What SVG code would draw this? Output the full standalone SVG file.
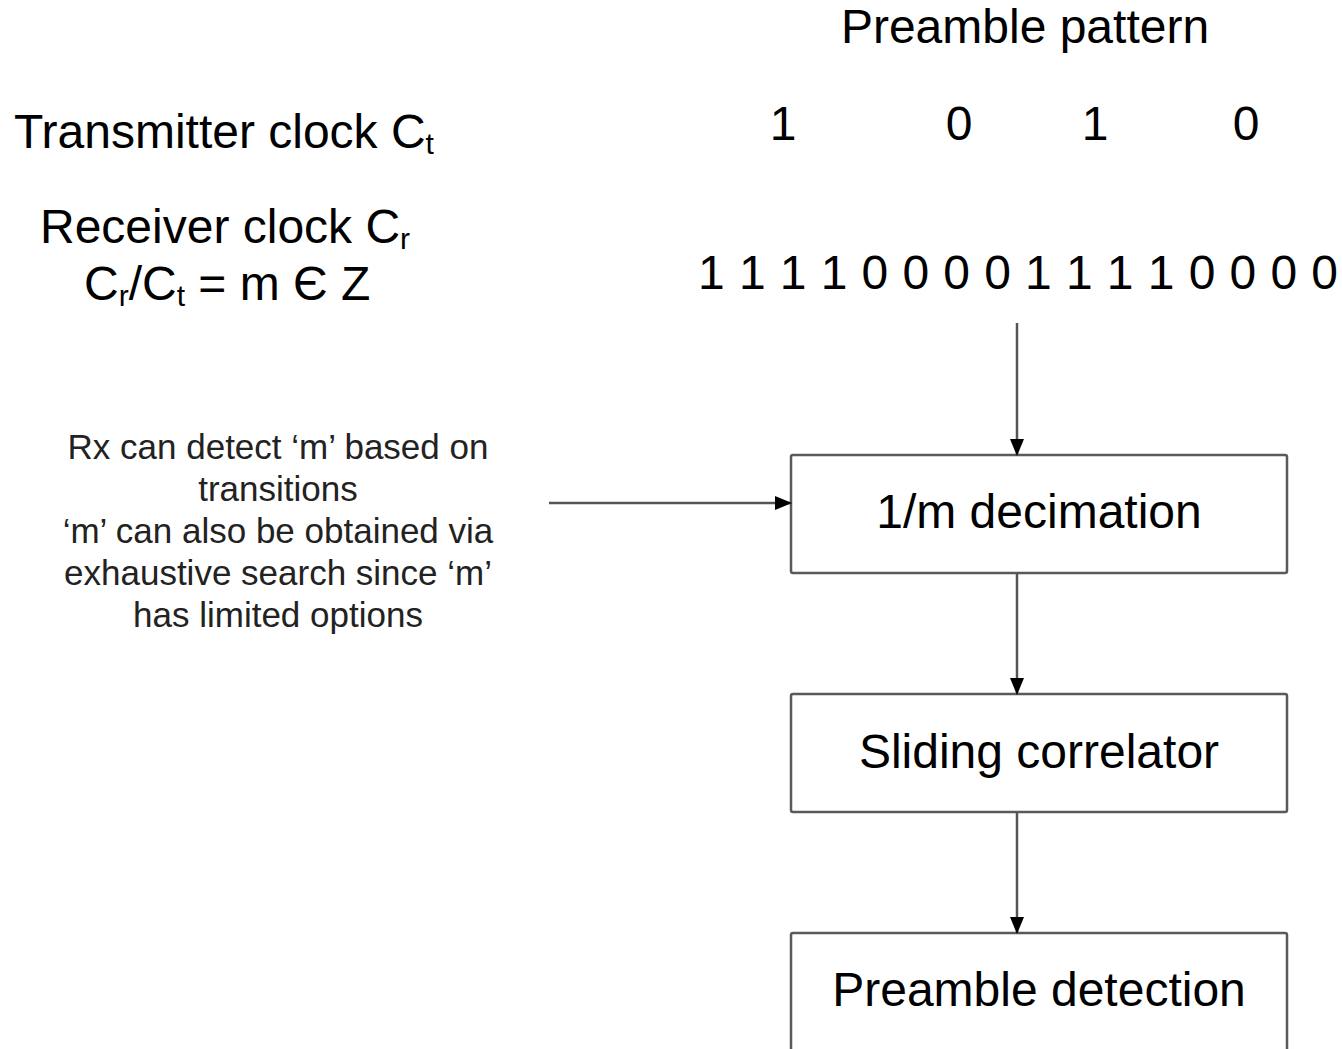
<svg xmlns="http://www.w3.org/2000/svg" width="1342" height="1049" viewBox="0 0 1342 1049">
  <style>
    text { font-family: "Liberation Sans", Arial, sans-serif; fill: #000; }
    .big { font-size: 48px; }
    .note { font-size: 35px; fill: #222; }
    .sub { font-size: 30px; }
    .box { fill: #fff; stroke: #5a5a5a; stroke-width: 2.5; }
    .wire { stroke: #555; stroke-width: 2.5; fill: none; }
  </style>
  <defs>
    <marker id="arrow" markerWidth="17" markerHeight="14" refX="16" refY="7" orient="auto" markerUnits="userSpaceOnUse">
      <path d="M0,0 L17,7 L0,14 Z" fill="#000"/>
    </marker>
  </defs>
  <rect width="1342" height="1049" fill="#fff"/>

  <!-- clock labels -->
  <g id="labels">
    <text class="big" x="14" y="148">Transmitter clock C<tspan class="sub" dy="6">t</tspan></text>
    <text class="big" x="40" y="243">Receiver clock C<tspan class="sub" dy="6">r</tspan></text>
    <text class="big" x="84" y="300">C<tspan class="sub" dy="6">r</tspan><tspan dy="-6">/C</tspan><tspan class="sub" dy="6">t</tspan><tspan dy="-6"> = m Є Z</tspan></text>
  </g>

  <!-- preamble bit patterns -->
  <g id="preamble">
    <text class="big" x="1025" y="43" text-anchor="middle">Preamble pattern</text>
    <text class="big" x="783" y="140" text-anchor="middle">1</text>
    <text class="big" x="959" y="140" text-anchor="middle">0</text>
    <text class="big" x="1095" y="140" text-anchor="middle">1</text>
    <text class="big" x="1246" y="140" text-anchor="middle">0</text>
    <text class="big" x="698" y="289" textLength="640" lengthAdjust="spacing">1 1 1 1 0 0 0 0 1 1 1 1 0 0 0 0</text>
  </g>

  <!-- note about the ratio m -->
  <g id="note" text-anchor="middle">
    <text class="note" x="278" y="459">Rx can detect ‘m’ based on</text>
    <text class="note" x="278" y="501">transitions</text>
    <text class="note" x="278" y="543">‘m’ can also be obtained via</text>
    <text class="note" x="278" y="585">exhaustive search since ‘m’</text>
    <text class="note" x="278" y="627">has limited options</text>
  </g>

  <!-- processing blocks -->
  <g id="decimation">
    <rect class="box" x="791" y="455" width="496" height="118" rx="2"/>
    <text class="big" x="1039" y="528" text-anchor="middle">1/m decimation</text>
  </g>
  <g id="correlator">
    <rect class="box" x="791" y="694" width="496" height="118" rx="2"/>
    <text class="big" x="1039" y="768" text-anchor="middle">Sliding correlator</text>
  </g>
  <g id="detection">
    <rect class="box" x="791" y="933" width="496" height="140" rx="2"/>
    <text class="big" x="1039" y="1006" text-anchor="middle">Preamble detection</text>
  </g>

  <!-- connectors -->
  <g id="connectors">
    <line class="wire" x1="1017" y1="323" x2="1017" y2="455" marker-end="url(#arrow)"/>
    <line class="wire" x1="549" y1="503" x2="791" y2="503" marker-end="url(#arrow)"/>
    <line class="wire" x1="1017" y1="573" x2="1017" y2="694" marker-end="url(#arrow)"/>
    <line class="wire" x1="1017" y1="812" x2="1017" y2="933" marker-end="url(#arrow)"/>
  </g>
</svg>
